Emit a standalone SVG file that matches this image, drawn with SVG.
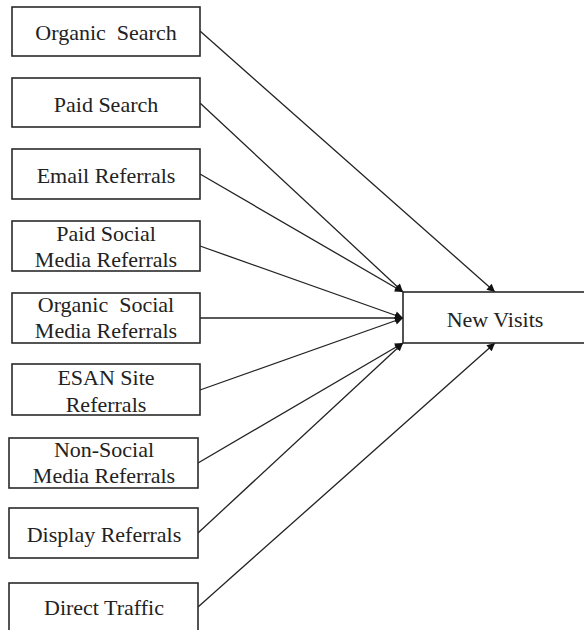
<svg xmlns="http://www.w3.org/2000/svg" width="584" height="630" viewBox="0 0 584 630">
<style>
.box{fill:#fff;stroke:#2a2a2a;stroke-width:1.6}
.t{font-family:"Liberation Serif","Times New Roman",serif;font-size:22px;fill:#222;text-anchor:middle;white-space:pre}
.c{stroke:#222;stroke-width:1.3;fill:none;marker-end:url(#ah)}
</style>
<defs>
<marker id="ah" viewBox="0 0 10 10" refX="10" refY="5" markerWidth="10" markerHeight="8" markerUnits="userSpaceOnUse" orient="auto">
<path d="M0,0 L10,5 L0,10 z" fill="#111"/>
</marker>
</defs>
<rect width="584" height="630" fill="#fff"/>
<g id="connectors">
<line class="c" x1="200" y1="31" x2="495" y2="292"/>
<line class="c" x1="200" y1="103" x2="403" y2="292"/>
<line class="c" x1="200" y1="174" x2="403" y2="292"/>
<line class="c" x1="200" y1="246" x2="403" y2="318"/>
<line class="c" x1="200" y1="318" x2="403" y2="318"/>
<line class="c" x1="200" y1="390" x2="403" y2="318"/>
<line class="c" x1="198" y1="463" x2="403" y2="343"/>
<line class="c" x1="198" y1="533" x2="403" y2="343"/>
<line class="c" x1="198" y1="607" x2="495" y2="343"/>
</g>
<g id="organic-search"><rect class="box" x="12" y="7" width="188" height="49"/><text class="t" x="106" y="40" xml:space="preserve">Organic  Search</text></g>
<g id="paid-search"><rect class="box" x="12" y="78" width="188" height="49"/><text class="t" x="106" y="112">Paid Search</text></g>
<g id="email-referrals"><rect class="box" x="12" y="149" width="188" height="50"/><text class="t" x="106" y="183">Email Referrals</text></g>
<g id="paid-social"><rect class="box" x="12" y="221" width="188" height="50"/><text class="t" x="106" y="241">Paid Social</text><text class="t" x="106" y="267">Media Referrals</text></g>
<g id="organic-social"><rect class="box" x="12" y="293" width="188" height="50"/><text class="t" x="106" y="312" xml:space="preserve">Organic  Social</text><text class="t" x="106" y="338">Media Referrals</text></g>
<g id="esan-site"><rect class="box" x="12" y="364" width="188" height="51"/><text class="t" x="106" y="385">ESAN Site</text><text class="t" x="106" y="412">Referrals</text></g>
<g id="non-social"><rect class="box" x="9" y="438" width="189" height="50"/><text class="t" x="104" y="457">Non-Social</text><text class="t" x="104" y="483">Media Referrals</text></g>
<g id="display-referrals"><rect class="box" x="9" y="508" width="189" height="50"/><text class="t" x="104" y="542">Display Referrals</text></g>
<g id="direct-traffic"><rect class="box" x="9" y="583" width="189" height="60"/><text class="t" x="104" y="615">Direct Traffic</text></g>
<g id="new-visits"><rect class="box" x="403" y="292" width="190" height="51"/><text class="t" x="495" y="327">New Visits</text></g>
</svg>
